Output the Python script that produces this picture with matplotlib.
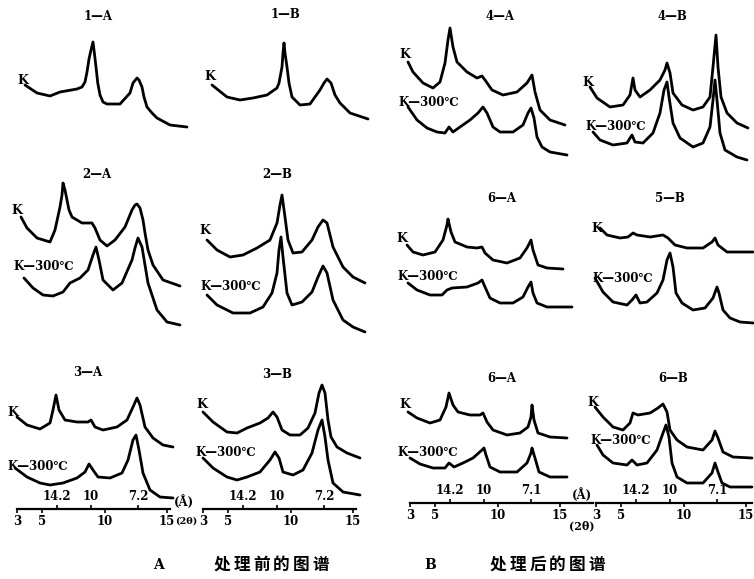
import matplotlib.pyplot as plt
import numpy as np

# X-ray diffraction traces, before (A) and after (B) treatment.
# 2-theta in degrees, intensity in arbitrary counts.

# --- 1-A ---
tt_1a_k = [3.40, 4.36, 5.40, 6.20, 7.56, 7.96, 8.20, 8.36, 8.52, 8.68, 8.84, 8.94, 9.08, 9.22, 9.40, 9.64, 9.96, 11.00, 11.80, 12.04, 12.36, 12.52, 12.76, 12.92, 13.16, 13.56, 13.96, 15.00, 16.36]
i_1a_k = [45, 37, 34, 38, 41, 43, 48, 58, 71, 80, 88, 78, 63, 47, 35, 28, 26, 26, 37, 47, 52, 50, 43, 33, 23, 17, 12, 5, 3]

# --- 1-B ---
tt_1b_k = [3.08, 4.28, 5.32, 6.36, 7.48, 8.28, 8.44, 8.68, 8.76, 8.84, 8.92, 9.08, 9.24, 9.48, 10.12, 10.92, 11.72, 12.04, 12.28, 12.60, 12.92, 13.32, 14.12, 15.56]
i_1b_k = [40, 28, 25, 27, 30, 37, 42, 58, 72, 82, 72, 58, 42, 28, 20, 21, 35, 42, 46, 42, 30, 22, 12, 6]

# --- 2-A ---
tt_2a_k = [2.92, 3.40, 4.20, 5.24, 5.64, 6.04, 6.20, 6.28, 6.44, 6.60, 6.76, 7.00, 7.80, 8.60, 8.84, 9.24, 9.80, 10.44, 11.24, 11.80, 12.04, 12.20, 12.44, 12.68, 12.84, 13.08, 13.48, 14.28, 15.64]
i_2a_k = [73, 62, 52, 48, 60, 83, 95, 107, 100, 90, 80, 73, 67, 67, 62, 50, 44, 50, 63, 80, 85, 86, 82, 70, 57, 40, 25, 10, 4]
tt_2a_h = [3.16, 3.88, 4.68, 5.48, 6.28, 6.84, 7.64, 8.28, 8.68, 8.92, 9.16, 9.48, 10.28, 11.00, 11.80, 12.04, 12.28, 12.60, 12.84, 13.08, 13.80, 14.60, 15.64]
i_2a_h = [52, 42, 35, 34, 38, 47, 52, 60, 75, 83, 70, 50, 40, 47, 70, 82, 92, 83, 65, 47, 20, 8, 5]

# --- 2-B ---
tt_2b_k = [2.92, 3.72, 4.76, 5.80, 6.92, 7.96, 8.52, 8.76, 8.92, 9.16, 9.40, 9.80, 10.52, 11.32, 11.80, 12.20, 12.52, 13.00, 13.80, 14.60, 15.56]
i_2b_k = [50, 40, 33, 35, 42, 50, 67, 85, 95, 73, 50, 37, 38, 50, 63, 70, 67, 43, 23, 13, 7]
tt_2b_h = [2.92, 3.72, 5.00, 6.36, 7.40, 8.12, 8.52, 8.68, 8.84, 9.00, 9.32, 9.72, 10.52, 11.32, 11.80, 12.20, 12.52, 13.00, 13.80, 14.60, 15.56]
i_2b_h = [40, 30, 22, 22, 28, 42, 62, 85, 98, 78, 42, 30, 33, 43, 58, 69, 62, 35, 15, 8, 3]

# --- 3-A ---
tt_3a_k = [3.00, 3.80, 4.84, 5.64, 5.88, 6.12, 6.36, 6.84, 7.80, 8.68, 8.92, 9.24, 9.88, 11.00, 11.80, 12.28, 12.60, 12.84, 13.24, 13.88, 14.68, 15.48]
i_3a_k = [33, 25, 21, 27, 40, 55, 40, 30, 28, 28, 30, 23, 20, 23, 30, 43, 52, 45, 23, 12, 5, 3]
tt_3a_h = [2.84, 3.80, 4.84, 5.64, 6.68, 7.80, 8.44, 8.76, 9.08, 9.48, 10.44, 11.40, 11.88, 12.28, 12.52, 12.76, 13.08, 13.64, 14.44, 15.48]
i_3a_h = [32, 23, 17, 15, 17, 22, 28, 36, 30, 23, 22, 27, 40, 60, 65, 50, 27, 10, 3, 2]

# --- 3-B ---
tt_3b_k = [3.00, 3.80, 4.92, 5.72, 6.52, 7.56, 8.20, 8.60, 8.92, 9.32, 9.96, 10.76, 11.40, 11.96, 12.28, 12.52, 12.76, 13.00, 13.24, 13.72, 14.52, 15.56]
i_3b_k = [48, 38, 28, 27, 32, 37, 42, 48, 43, 30, 25, 25, 32, 47, 67, 75, 67, 40, 23, 13, 7, 2]
tt_3b_h = [3.00, 3.80, 4.92, 5.72, 6.52, 7.56, 8.36, 8.76, 9.08, 9.40, 10.20, 11.00, 11.72, 12.20, 12.52, 12.76, 13.00, 13.40, 14.20, 15.56]
i_3b_h = [42, 32, 23, 20, 23, 28, 40, 48, 42, 28, 25, 30, 47, 70, 80, 63, 40, 17, 8, 5]

# --- 4-A ---
tt_4a_k = [2.76, 3.16, 3.96, 4.76, 5.32, 5.72, 5.96, 6.12, 6.36, 6.68, 7.48, 8.28, 8.68, 8.92, 9.48, 10.36, 11.48, 12.28, 12.68, 12.92, 13.32, 14.12, 15.32]
i_4a_k = [68, 58, 47, 42, 48, 67, 90, 102, 83, 68, 58, 52, 54, 50, 40, 35, 38, 47, 55, 38, 20, 10, 5]
tt_4a_h = [2.76, 3.48, 4.28, 5.08, 5.72, 6.04, 6.36, 6.92, 7.72, 8.36, 8.76, 9.08, 9.56, 10.12, 11.16, 11.96, 12.36, 12.60, 12.84, 13.08, 13.48, 14.12, 15.48]
i_4a_h = [53, 40, 32, 28, 27, 33, 28, 33, 40, 47, 53, 47, 33, 28, 28, 35, 47, 52, 42, 23, 13, 8, 5]

# --- 4-B ---
tt_4b_k = [2.52, 3.08, 4.12, 5.16, 5.72, 5.96, 6.12, 6.52, 7.32, 8.12, 8.52, 8.68, 8.92, 9.16, 9.88, 10.76, 11.56, 12.12, 12.36, 12.60, 12.76, 13.00, 13.48, 14.28, 15.16]
i_4b_k = [43, 32, 23, 25, 35, 52, 40, 33, 40, 50, 60, 67, 57, 37, 25, 20, 23, 33, 63, 95, 63, 33, 17, 7, 2]
tt_4b_h = [2.76, 3.32, 4.36, 5.48, 5.88, 6.12, 6.76, 7.56, 8.12, 8.44, 8.68, 8.84, 9.16, 9.72, 10.76, 11.56, 12.12, 12.36, 12.52, 12.68, 12.92, 13.32, 14.28, 15.08]
i_4b_h = [33, 25, 20, 22, 30, 23, 22, 32, 52, 75, 83, 68, 42, 27, 18, 22, 38, 65, 85, 65, 32, 15, 8, 5]

# --- 5-A (printed as "6-A") ---
tt_5a_k = [2.76, 3.24, 4.04, 5.00, 5.64, 5.96, 6.04, 6.28, 6.60, 7.56, 8.36, 8.76, 9.00, 9.64, 10.76, 11.80, 12.36, 12.68, 12.84, 13.24, 13.96, 15.24]
i_5a_k = [25, 18, 15, 18, 30, 45, 51, 38, 28, 23, 22, 23, 17, 10, 7, 12, 22, 30, 20, 5, 2, 1]
tt_5a_h = [2.84, 3.56, 4.60, 5.56, 5.96, 6.36, 7.56, 8.44, 8.76, 9.00, 9.40, 10.20, 11.24, 12.04, 12.44, 12.68, 12.84, 13.16, 13.96, 15.96]
i_5a_h = [27, 20, 15, 15, 20, 22, 23, 27, 30, 23, 12, 7, 7, 13, 23, 28, 17, 7, 3, 3]

# --- 5-B ---
tt_5b_k = [3.32, 3.88, 4.92, 5.56, 5.96, 6.28, 7.32, 8.36, 8.76, 9.32, 10.28, 11.56, 12.28, 12.52, 12.76, 13.48, 15.56]
i_5b_k = [27, 20, 17, 18, 22, 20, 18, 20, 17, 10, 7, 7, 13, 17, 10, 3, 3]
tt_5b_h = [2.92, 3.56, 4.36, 5.48, 5.88, 6.20, 6.52, 7.08, 7.88, 8.36, 8.68, 8.92, 9.16, 9.40, 9.88, 10.76, 11.72, 12.36, 12.68, 12.84, 13.16, 13.72, 14.52, 15.56]
i_5b_h = [47, 33, 23, 20, 25, 30, 22, 23, 32, 45, 65, 72, 58, 32, 22, 15, 17, 27, 38, 32, 15, 7, 3, 2]

# --- 6-A ---
tt_6a_k = [2.84, 3.56, 4.60, 5.40, 5.88, 6.12, 6.44, 6.84, 7.80, 8.60, 8.84, 9.16, 9.64, 10.76, 11.80, 12.44, 12.68, 12.76, 12.92, 13.24, 14.20, 15.56]
i_6a_k = [28, 22, 17, 20, 33, 47, 35, 28, 25, 25, 27, 18, 10, 5, 7, 13, 23, 35, 20, 7, 3, 2]
tt_6a_h = [3.00, 3.80, 4.84, 5.80, 6.12, 6.52, 7.24, 8.04, 8.76, 8.92, 9.08, 9.40, 10.20, 11.56, 12.36, 12.68, 12.76, 13.00, 13.32, 14.20, 15.56]
i_6a_h = [22, 16, 12, 12, 17, 13, 17, 22, 30, 32, 25, 13, 8, 8, 17, 27, 32, 22, 8, 3, 3]

# --- 6-B ---
tt_6b_k = [2.92, 3.56, 4.36, 5.16, 5.72, 5.96, 6.36, 7.32, 7.96, 8.36, 8.68, 8.92, 9.48, 10.28, 11.56, 12.28, 12.52, 12.76, 13.16, 13.96, 15.48]
i_6b_k = [53, 43, 33, 30, 37, 47, 45, 47, 52, 56, 48, 30, 20, 13, 10, 20, 29, 22, 8, 3, 2]
tt_6b_h = [3.08, 3.56, 4.36, 5.48, 5.88, 6.28, 7.08, 7.88, 8.36, 8.60, 8.84, 9.08, 9.48, 10.28, 11.56, 12.28, 12.52, 12.76, 13.08, 13.72, 15.48]
i_6b_h = [45, 35, 27, 25, 30, 25, 27, 40, 57, 65, 53, 27, 13, 7, 7, 17, 27, 18, 7, 3, 3]

# scale labels
tt_ticks = [3, 5, 10, 15]
d_tick_pos = [6.2, 8.9, 12.7]
d_labels_a = ['14.2', '10', '7.2']
d_labels_b = ['14.2', '10', '7.1']

# ---------------- layout (pixels) ----------------
W, H = 754, 579
PX_DEG = 12.5
BOLD = dict(fontweight='bold', color='black')
plt.rcParams['font.family'] = ['DejaVu Serif', 'Noto Sans CJK SC']

fig = plt.figure(figsize=(W / 100, H / 100), dpi=100)


def ftext(x, y, s, **kw):
    fig.text(x / W, 1 - y / H, s, va='center', **kw)


def make_panel(x0, y_top, y_bot):
    left = x0 - PX_DEG  # 2-theta = 2 at the left edge
    ax = fig.add_axes([left / W, 1 - y_bot / H, 16 * PX_DEG / W, (y_bot - y_top) / H])
    ax.set_xlim(2, 18)
    ax.set_ylim(0, y_bot - y_top)
    ax.patch.set_visible(False)
    return ax


# title, x0, y_top, y_bot, traces(tt, i, offset), title pos, K pos, K-300 pos
panels = [
    ('1—A', 20, 0, 170, [(tt_1a_k, i_1a_k, 40)], (98, 17), (23, 80), None),
    ('1—B', 211, 0, 170, [(tt_1b_k, i_1b_k, 45)], (285, 15), (210, 77), None),
    ('4—A', 411, 0, 170, [(tt_4a_k, i_4a_k, 40), (tt_4a_h, i_4a_h, 10)], (500, 17), (405, 55), (398, 102)),
    ('4—B', 596, 0, 170, [(tt_4b_k, i_4b_k, 40), (tt_4b_h, i_4b_h, 5)], (672, 17), (588, 82), (585, 127)),
    ('2—A', 22, 170, 340, [(tt_2a_k, i_2a_k, 50), (tt_2a_h, i_2a_h, 10)], (97, 175), (17, 210), (13, 267)),
    ('2—B', 208, 170, 340, [(tt_2b_k, i_2b_k, 50), (tt_2b_h, i_2b_h, 5)], (277, 175), (205, 230), (200, 287)),
    ('6—A', 410, 170, 340, [(tt_5a_k, i_5a_k, 70), (tt_5a_h, i_5a_h, 30)], (502, 198), (402, 238), (397, 277)),
    ('5—B', 596, 170, 340, [(tt_5b_k, i_5b_k, 85), (tt_5b_h, i_5b_h, 15)], (670, 198), (597, 228), (592, 278)),
    ('3—A', 17, 340, 509, [(tt_3a_k, i_3a_k, 59), (tt_3a_h, i_3a_h, 9)], (88, 373), (13, 412), (7, 466)),
    ('3—B', 203, 340, 509, [(tt_3b_k, i_3b_k, 49), (tt_3b_h, i_3b_h, 9)], (277, 375), (202, 405), (195, 453)),
    ('6—A', 410, 340, 503, [(tt_6a_k, i_6a_k, 63), (tt_6a_h, i_6a_h, 23)], (502, 378), (405, 405), (397, 453)),
    ('6—B', 596, 340, 503, [(tt_6b_k, i_6b_k, 43), (tt_6b_h, i_6b_h, 13)], (673, 378), (593, 402), (590, 440)),
]

# bottom scale for the last row: (spine end in 2-theta, d labels)
scales = {8: (15.2, d_labels_a), 9: (15.2, d_labels_a), 10: (17.64, d_labels_b), 11: (15.5, d_labels_b)}

for n, (title, x0, y_top, y_bot, traces, tpos, kpos, hpos) in enumerate(panels):
    ax = make_panel(x0, y_top, y_bot)
    for tt, inten, off in traces:
        ax.plot(tt, np.array(inten) + off, color='black', lw=2.0,
                solid_joinstyle='round', solid_capstyle='round', clip_on=False)
    ftext(*tpos, title, ha='center', fontsize=8.5, **BOLD)
    ftext(*kpos, 'K', ha='center', fontsize=9, **BOLD)
    if hpos:
        ftext(*hpos, 'K—300℃', ha='left', fontsize=8.5, **BOLD)

    if n in scales:
        end, dlabels = scales[n]
        for side in ['left', 'right', 'top']:
            ax.spines[side].set_visible(False)
        ax.spines['bottom'].set_bounds(3, end)
        ax.spines['bottom'].set_linewidth(1.6)
        ax.set_yticks([])
        ax.set_xticks(tt_ticks)
        ax.tick_params(axis='x', direction='out', length=3, width=1.2, pad=1,
                       labelsize=8.5)
        for lab in ax.get_xticklabels():
            lab.set_fontweight('bold')
        sec = ax.secondary_xaxis(0)
        sec.set_alignment('top')
        for s in sec.spines.values():
            s.set_visible(False)
        sec.set_xticks(d_tick_pos, dlabels)
        sec.tick_params(axis='x', direction='out', length=3, width=1.2, pad=1,
                        labelsize=8.5)
        for lab in sec.get_xticklabels():
            lab.set_fontweight('bold')
    else:
        ax.axis('off')

# units of the two scales
ftext(184, 502, '(Å)', ha='center', fontsize=8.5, **BOLD)
ftext(186, 521, '(2θ)', ha='center', fontsize=7, **BOLD)
ftext(582, 495, '(Å)', ha='center', fontsize=8.5, **BOLD)
ftext(582, 526, '(2θ)', ha='center', fontsize=8, **BOLD)

# captions
ftext(158, 565, 'A', ha='center', fontsize=10, **BOLD)
ftext(430, 565, 'B', ha='center', fontsize=10, **BOLD)
for start, caption in [(212, '处理前的图谱'), (488, '处理后的图谱')]:
    for k, ch in enumerate(caption):
        ftext(start + 19.8 * (k + 0.5), 565, ch, ha='center', fontsize=12,
              family='Noto Sans CJK SC', fontweight='bold', color='black')

fig.savefig('out.png', dpi=100)
